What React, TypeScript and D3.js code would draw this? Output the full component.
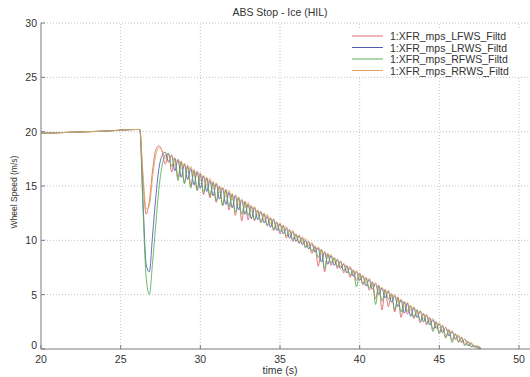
import React from "react";
import * as d3 from "d3";

const title = "ABS Stop - Ice (HIL)";
const xLabel = "time (s)";
const yLabel = "Wheel Speed (m/s)";
const xTicks = [20, 25, 30, 35, 40, 45, 50];
const yTicks = [0, 5, 10, 15, 20, 25, 30];
const seriesNames = [
  "1:XFR_mps_LFWS_Filtd",
  "1:XFR_mps_LRWS_Filtd",
  "1:XFR_mps_RFWS_Filtd",
  "1:XFR_mps_RRWS_Filtd",
];
const seriesColors = ["#e06a6a", "#4f5fae", "#5fae5f", "#e3a467"];

// before the brake, all four wheels read the same
const preBrakeTime = [20, 22, 24];
const preBrakeSpeed = [19.85, 19.95, 20.05];

// logged samples from 26.0 s, every 0.2 s
const sampleStart = 26.0;
const sampleStep = 0.2;

const lfws = [
  20.2, 20.2, 15.6, 12.4, 13.6, 16.4, 18.3, 18.7, 18.2, 17.0,
  18.0, 16.3, 17.6, 15.8, 17.3, 15.3, 16.9, 15.0, 16.5, 14.6,
  16.2, 14.2, 15.8, 13.9, 15.4, 13.5, 15.0, 13.2, 14.7, 12.8,
  14.3, 12.3, 14.0, 11.8, 13.6, 11.9, 13.2, 11.8, 12.8, 11.6,
  12.5, 11.3, 12.1, 10.9, 11.7, 10.6, 11.4, 10.2, 11.0, 9.9,
  10.6, 9.7, 10.3, 9.4, 9.9, 8.8, 9.5, 7.6, 9.2, 7.1,
  8.8, 7.7, 8.4, 7.4, 8.1, 7.0, 7.7, 6.6, 7.3, 6.3,
  7.0, 5.9, 6.6, 5.4, 6.2, 4.6, 5.9, 3.6, 5.5, 3.9,
  5.1, 3.4, 4.8, 2.9, 4.4, 3.2, 4.0, 2.8, 3.6, 2.4,
  3.3, 2.2, 2.9, 1.8, 2.5, 1.4, 2.2, 1.1, 1.8, 0.8,
  1.4, 0.6, 1.1, 0.4, 0.7, 0.2, 0.3, 0.1, 0.0,
];

const lrws = [
  20.2, 20.2, 13.6, 7.8, 7.1, 10.4, 13.9, 16.6, 17.8, 18.1,
  17.2, 17.8, 16.4, 17.4, 15.8, 17.0, 15.6, 16.6, 15.1, 16.3,
  14.8, 15.9, 14.5, 15.5, 14.1, 15.2, 13.8, 14.8, 13.3, 14.4,
  13.0, 14.1, 12.8, 13.7, 12.4, 13.3, 12.0, 13.0, 11.9, 12.6,
  11.6, 12.2, 11.2, 11.9, 10.9, 11.5, 10.6, 11.1, 10.2, 10.8,
  9.9, 10.4, 9.6, 10.0, 9.2, 9.7, 8.9, 9.3, 8.0, 8.9,
  7.8, 8.6, 7.7, 8.2, 7.4, 7.8, 7.0, 7.5, 6.7, 7.1,
  6.3, 6.7, 5.8, 6.4, 5.5, 6.0, 5.0, 5.6, 4.7, 5.3,
  4.3, 4.9, 3.9, 4.5, 3.3, 4.2, 3.0, 3.8, 2.9, 3.5,
  2.5, 3.1, 2.2, 2.7, 1.9, 2.3, 1.5, 2.0, 1.2, 1.6,
  0.9, 1.2, 0.6, 0.9, 0.3, 0.5, 0.2, 0.2, 0.1,
];

const rfws = [
  20.2, 20.2, 13.0, 6.6, 5.0, 7.9, 11.4, 14.7, 16.9, 17.8,
  18.0, 16.8, 17.5, 15.5, 17.2, 15.2, 16.8, 14.8, 16.4, 14.6,
  16.0, 14.4, 15.7, 14.1, 15.3, 13.6, 14.9, 13.2, 14.6, 13.1,
  14.2, 12.6, 13.9, 12.4, 13.5, 12.3, 13.1, 11.9, 12.7, 11.7,
  12.4, 11.4, 12.0, 11.0, 11.6, 10.8, 11.3, 10.4, 10.9, 10.1,
  10.5, 9.8, 10.2, 9.3, 9.8, 9.0, 9.4, 8.4, 9.1, 7.4,
  8.7, 7.9, 8.4, 7.6, 8.0, 7.2, 7.6, 6.8, 7.2, 5.7,
  6.9, 6.0, 6.5, 5.6, 6.1, 4.1, 5.8, 4.4, 5.4, 4.6,
  5.0, 3.6, 4.7, 3.4, 4.3, 3.5, 3.9, 2.9, 3.6, 2.6,
  3.2, 2.4, 2.8, 1.6, 2.5, 1.5, 2.1, 1.0, 1.7, 0.6,
  1.4, 0.7, 1.0, 0.3, 0.7, 0.2, 0.3, 0.1, 0.0,
];

const rrws = [
  20.2, 20.2, 16.2, 12.9, 13.2, 15.8, 17.8, 18.5, 18.3, 17.6,
  17.3, 17.9, 16.9, 17.5, 16.6, 17.1, 16.3, 16.8, 15.9, 16.4,
  15.5, 16.0, 15.1, 15.7, 14.7, 15.3, 14.4, 14.9, 14.0, 14.6,
  13.7, 14.2, 13.3, 13.8, 13.0, 13.5, 12.6, 13.1, 12.3, 12.7,
  11.9, 12.4, 11.6, 12.0, 11.2, 11.6, 10.9, 11.3, 10.5, 10.9,
  10.2, 10.5, 9.8, 10.2, 9.5, 9.8, 9.1, 9.4, 8.7, 9.0,
  8.4, 8.7, 8.0, 8.3, 7.6, 7.9, 7.3, 7.6, 6.9, 7.2,
  6.5, 6.8, 6.1, 6.5, 5.8, 6.1, 5.4, 5.7, 5.0, 5.4,
  4.7, 5.0, 4.3, 4.6, 3.9, 4.3, 3.6, 3.9, 3.2, 3.5,
  2.8, 3.2, 2.5, 2.8, 2.1, 2.4, 1.7, 2.0, 1.4, 1.7,
  1.0, 1.3, 0.7, 0.9, 0.4, 0.6, 0.2, 0.3, 0.1,
];

const seriesSpeeds = [lfws, lrws, rfws, rrws];

const W = 530;
const H = 377;
const font = "'Liberation Sans', Arial, sans-serif";

export default function App() {
  const x = d3.scaleLinear().domain([20, 50]).range([41, 519]);
  const y = d3.scaleLinear().domain([0, 30]).range([349, 23]);

  const series = seriesSpeeds.map((speeds) => {
    const pts: [number, number][] = preBrakeTime.map((t, i) => [t, preBrakeSpeed[i]]);
    speeds.forEach((v, i) => pts.push([sampleStart + i * sampleStep, v]));
    return pts;
  });

  const line = d3
    .line<[number, number]>()
    .x((d) => x(d[0]))
    .y((d) => y(d[1]))
    .curve(d3.curveMonotoneX);

  const [x0, x1] = x.range();
  const [y0, y1] = y.range();

  return (
    <svg
      width={W}
      height={H}
      style={{ position: "absolute", left: 0, top: 0, background: "#fff" }}
      fontFamily={font}
    >
      {/* grid */}
      <g stroke="#b4b4b4" strokeWidth={0.8} strokeDasharray="1,2">
        {xTicks.slice(1).map((t) => (
          <line key={"gx" + t} x1={x(t)} x2={x(t)} y1={y0} y2={y1} />
        ))}
        {yTicks.slice(1).map((t) => (
          <line key={"gy" + t} x1={x0} x2={W} y1={y(t)} y2={y(t)} />
        ))}
      </g>

      {/* legend box hides the grid behind it */}
      <rect x={345} y={30} width={W - 345} height={46} fill="#fff" />

      {/* data */}
      <g fill="none" strokeWidth={0.9}>
        {series.map((pts, i) => (
          <path key={seriesNames[i]} d={line(pts) ?? ""} stroke={seriesColors[i]} />
        ))}
      </g>

      {/* axes */}
      <g stroke="#7a7a7a" strokeWidth={1}>
        <line x1={x0} x2={x0} y1={y0} y2={y1} />
        <line x1={x0} x2={W} y1={y0} y2={y0} />
        {xTicks.map((t) => (
          <line key={"tx" + t} x1={x(t)} x2={x(t)} y1={y0} y2={y0 - 4} />
        ))}
        {yTicks.map((t) => (
          <line key={"ty" + t} x1={x0} x2={x0 + 4} y1={y(t)} y2={y(t)} />
        ))}
      </g>

      <g fill="#333" fontSize={10.5}>
        {xTicks.map((t) => (
          <text key={"lx" + t} x={x(t)} y={y0 + 14} textAnchor="middle">
            {t}
          </text>
        ))}
        {yTicks.map((t) => (
          <text key={"ly" + t} x={x0 - 4} y={y(t) + (t === 0 ? 0 : 4)} textAnchor="end">
            {t}
          </text>
        ))}
        <text x={(x0 + x1) / 2} y={374} textAnchor="middle">
          {xLabel}
        </text>
        <text x={(x0 + x1) / 2} y={16} textAnchor="middle">
          {title}
        </text>
        <text
          transform={`translate(17,${(y0 + y1) / 2 + 6}) rotate(-90)`}
          textAnchor="middle"
          fontSize={8.5}
        >
          {yLabel}
        </text>
      </g>

      {/* legend */}
      <g fontSize={10.5} fill="#333">
        {seriesNames.map((name, i) => (
          <g key={name} transform={`translate(352,${36 + i * 11.5})`}>
            <line x1={0} x2={31} y1={0} y2={0} stroke={seriesColors[i]} strokeWidth={1} />
            <text x={38} y={4}>
              {name}
            </text>
          </g>
        ))}
      </g>
    </svg>
  );
}
